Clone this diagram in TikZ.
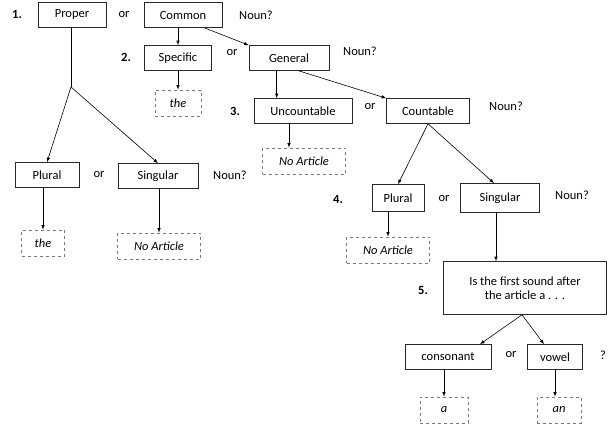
\documentclass[tikz,border=0pt]{standalone}
\usepackage{fontspec}
\setmainfont{Carlito}
\usetikzlibrary{arrows}
\definecolor{box_gray}{RGB}{40,40,40}
\definecolor{dash_gray}{RGB}{120,120,120}
\begin{document}
\begin{tikzpicture}[x=1pt,y=-1pt,->,>=latex,semithick,font=\fontsize{12.5}{14}\selectfont]
    \tikzstyle{word}=[draw=box_gray, rectangle, minimum height=25pt, inner sep=2pt, fill=white, text=black]
    \tikzstyle{art}=[draw=dash_gray, dashed, rectangle, minimum height=26pt, inner sep=2pt, font=\fontsize{12.5}{14}\selectfont\itshape]
    \tikzstyle{lbl}=[text=black]
    \tikzstyle{num}=[text=black, font=\fontsize{12.5}{14}\selectfont\bfseries]

    \useasboundingbox (0,0) rectangle (613,427);

    \node[num] (n1) at (17,14) {1.};
    \node[word, minimum width=68pt] (proper) at (72,15) {Proper};
    \node[lbl] (or1) at (124,15) {or};
    \node[word, minimum width=78pt] (common) at (183,15) {Common};
    \node[lbl] (q1) at (256,15) {Noun?};

    \node[num] (n2) at (126,57) {2.};
    \node[word, minimum width=67pt] (specific) at (178,58) {Specific};
    \node[lbl] (or2) at (232,53) {or};
    \node[word, minimum width=80pt] (general) at (289,58) {General};
    \node[lbl] (q2) at (360,51) {Noun?};
    \node[art, minimum width=46pt] (the1) at (178,103) {the};

    \node[num] (n3) at (235,111) {3.};
    \node[word, minimum width=98pt] (uncount) at (303,111) {Uncountable};
    \node[lbl] (or3) at (370,107) {or};
    \node[word, minimum width=83pt] (count) at (428,111) {Countable};
    \node[lbl] (q3) at (506,106) {Noun?};
    \node[art, minimum width=83pt] (noart1) at (304,161) {No Article};

    \node[word, minimum width=64pt] (plural1) at (47,175) {Plural};
    \node[lbl] (or4) at (99,175) {or};
    \node[word, minimum width=80pt] (single1) at (158,176) {Singular};
    \node[lbl] (q4) at (230,175) {Noun?};
    \node[art, minimum width=43pt] (the2) at (43,243) {the};
    \node[art, minimum width=83pt] (noart2) at (159,246) {No Article};

    \node[num] (n4) at (338,199) {4.};
    \node[word, minimum width=52pt, minimum height=27pt] (plural2) at (398,198) {Plural};
    \node[lbl] (or5) at (444,199) {or};
    \node[word, minimum width=79pt, minimum height=29pt] (single2) at (500,198) {Singular};
    \node[lbl] (q5) at (572,195) {Noun?};
    \node[art, minimum width=83pt] (noart3) at (388,250) {No Article};

    \node[num] (n5) at (423,290) {5.};
    \node[word, minimum width=163pt, minimum height=53pt, align=center] (sound) at (525,288) {Is the first sound after\\the article a . . .};
    \node[word, minimum width=86pt] (conson) at (448,357) {consonant};
    \node[lbl] (or6) at (511,355) {or};
    \node[word, minimum width=55pt] (vowel) at (555,357) {vowel};
    \node[lbl] (q6) at (603,355) {?};
    \node[art, minimum width=48pt] (a) at (444,410) {a};
    \node[art, minimum width=44pt] (an) at (559,410) {an};

    \coordinate (fork) at (71,87);
    \coordinate (uncin) at ([xshift=23pt]uncount.north west);

    \draw[-] (proper.south -| fork) -- (fork);
    \draw (fork) -- (plural1.north);
    \draw (fork) -- (single1.north);
    \draw (plural1.south -| the2) -- (the2.north);
    \draw (single1.south -| noart2) -- (noart2.north);
    \draw (common.south -| specific) -- (specific.north);
    \draw (common.south east) ++(-18,0) -- (general.north west);
    \draw (specific.south) -- (the1.north);
    \draw (general.south -| uncin) -- (uncin);
    \draw (general.south west) ++(50,0) -- (count.north west);
    \draw (uncount.south -| noart1) ++(-15,0) -- ([xshift=-15pt]noart1.north);
    \draw (count.south) -- (plural2.north);
    \draw (count.south) -- ([xshift=-6pt]single2.north);
    \draw (plural2.south -| noart3) -- (noart3.north);
    \draw ([xshift=-4pt]single2.south) -- ([xshift=-29pt]sound.north);
    \draw ([xshift=-3pt]sound.south) -- ([xshift=32pt]conson.north);
    \draw ([xshift=-3pt]sound.south) -- ([xshift=-11pt]vowel.north);
    \draw (conson.south -| a) -- (a.north);
    \draw (vowel.south) -- ([xshift=-4pt]an.north);
\end{tikzpicture}
\end{document}
